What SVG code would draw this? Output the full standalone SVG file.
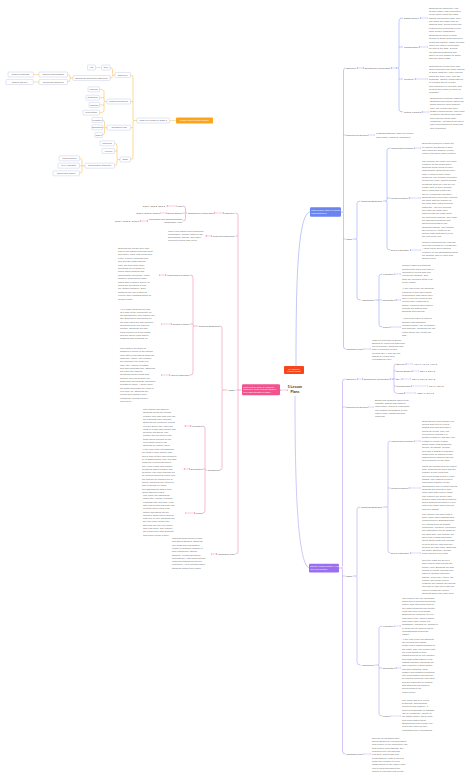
<svg xmlns="http://www.w3.org/2000/svg" width="474" height="780" viewBox="0 0 474 780">
<style>
text{font-family:"Liberation Sans",Arial,sans-serif}
.l{font-size:2.4px;fill:#555}
.le{font-size:2.4px;fill:#555;text-anchor:end}
.t{font-size:2.4px;fill:#6a6a6a}
.ob{font-size:2.1px;fill:#555;text-anchor:middle}
.box{fill:#fff;stroke:#aab6e2;stroke-width:0.35}
.cb{fill:none;stroke:#8092f2;stroke-width:0.5}
.cp{fill:none;stroke:#f0709e;stroke-width:0.5}
.cu{fill:none;stroke:#a88cf2;stroke-width:0.5}
.co{fill:none;stroke:#f6b43a;stroke-width:0.5}
.ab{fill:none;stroke:#8092f2;stroke-width:0.35;marker-start:url(#mb);marker-end:url(#mb)}
.ap{fill:none;stroke:#f0709e;stroke-width:0.35;marker-start:url(#mp);marker-end:url(#mp)}
.au{fill:none;stroke:#a88cf2;stroke-width:0.35;marker-start:url(#mu);marker-end:url(#mu)}
.ao{fill:none;stroke:#f6b43a;stroke-width:0.4}
.nt{fill:#fff;font-size:2.2px}
</style>
<defs>
<marker id="mb" viewBox="0 0 4 4" refX="2" refY="2" markerUnits="userSpaceOnUse" markerWidth="1.5" markerHeight="1.5" orient="auto-start-reverse"><path d="M0,0L4,2L0,4z" fill="#8092f2"/></marker>
<marker id="mp" viewBox="0 0 4 4" refX="2" refY="2" markerUnits="userSpaceOnUse" markerWidth="1.5" markerHeight="1.5" orient="auto-start-reverse"><path d="M0,0L4,2L0,4z" fill="#f0709e"/></marker>
<marker id="mu" viewBox="0 0 4 4" refX="2" refY="2" markerUnits="userSpaceOnUse" markerWidth="1.5" markerHeight="1.5" orient="auto-start-reverse"><path d="M0,0L4,2L0,4z" fill="#a88cf2"/></marker>
</defs>
<rect width="474" height="780" fill="#fff"/>

<g id="connectors">
<path class="cb" d="M296,366 C296,290 297,214 310,212"/>
<path class="cu" d="M295,396 C295,480 297,562 309,568"/>
<path class="ap" d="M280.5,390 H287.5"/>
<path class="cb" d="M345.5,68 Q343.5,68 343.5,70.5 V210.8 Q343.5,212 342.3,212 Q343.5,212 343.5,213.2 V346.5 Q343.5,349 345.5,349 M343.5,135 H345.5 M343.5,239 H345.5 M341,212 H342.3"/>
<path class="cb" d="M403,18 Q399,18 399,20.5 V66.8 Q399,68 397.8,68 Q399,68 399,69.2 V109.5 Q399,112 403,112 M399,47 H403 M399,79 H403"/>
<path class="cb" d="M360.5,201 Q357,201 357,203.5 V237.8 Q357,239 355.8,239 Q357,239 357,240.2 V297.5 Q357,300 360.5,300 M352.9,239 H355.8"/>
<path class="cb" d="M390.5,148 Q387,148 387,150.5 V199.8 Q387,201 385.8,201 Q387,201 387,202.2 V247.5 Q387,250 390.5,250 M387,198 H390.5 M383,201 H385.8"/>
<path class="cb" d="M382.5,274 Q379,274 379,276.5 V298.8 Q379,300 377.8,300 Q379,300 379,301.2 V324.5 Q379,327 382.5,327 M379,300 H382.5 M374.8,300 H377.8"/>
<path class="ab" d="M357.2,68 H363.8"/>
<path class="ab" d="M391,68 H397"/>
<path class="ab" d="M420,18 H427.3"/>
<path class="ab" d="M419,47 H427.3"/>
<path class="ab" d="M415,79 H427.3"/>
<path class="ab" d="M422,112 H428.3"/>
<path class="ab" d="M368.7,135 H374.3"/>
<path class="ab" d="M414.5,148 H420.3"/>
<path class="ab" d="M409,198 H420.3"/>
<path class="ab" d="M410.3,250 H420.3"/>
<path class="ab" d="M394.5,274 H400.3"/>
<path class="ab" d="M395.8,300 H400.3"/>
<path class="ab" d="M390.7,327 H400.3"/>
<path class="ab" d="M363.6,349 H370.3"/>
<path class="cu" d="M345.5,379 Q342.5,379 342.5,381.5 V566.8 Q342.5,568 341.3,568 Q342.5,568 342.5,569.2 V751.5 Q342.5,754 345.5,754 M342.5,407 H345.5 M342.5,576 H345.5 M339,568 H341.3"/>
<path class="cu" d="M396.5,364 Q394,364 394,366.5 V377.8 Q394,379 392.8,379 Q394,379 394,380.2 V390.5 Q394,393 396.5,393 M394,371 H396.5 M394,379 H396.5 M394,386 H396.5"/>
<path class="cu" d="M360.5,507 Q357,507 357,509.5 V574.8 Q357,576 355.8,576 Q357,576 357,577.2 V662.5 Q357,665 360.5,665 M352.9,576 H355.8"/>
<path class="cu" d="M390.5,441 Q388,441 388,443.5 V505.8 Q388,507 386.8,507 Q388,507 388,508.2 V550.5 Q388,553 390.5,553 M388,488 H390.5 M383,507 H386.8"/>
<path class="cu" d="M382.5,626 Q379,626 379,628.5 V663.8 Q379,665 377.8,665 Q379,665 379,666.2 V713.5 Q379,716 382.5,716 M379,668 H382.5 M374.8,665 H377.8"/>
<path class="au" d="M357,379 H363"/>
<path class="au" d="M390,379 H392.5"/>
<path class="au" d="M405.8,364 H412.3"/>
<path class="au" d="M412.5,371 H418.3"/>
<path class="au" d="M401.8,379 H410.3"/>
<path class="au" d="M411.4,386 H427.3"/>
<path class="au" d="M404.2,393 H415.3"/>
<path class="au" d="M368.7,407 H373.3"/>
<path class="au" d="M414.5,441 H420.3"/>
<path class="au" d="M409,488 H420.3"/>
<path class="au" d="M410.3,553 H420.3"/>
<path class="au" d="M394.5,626 H400.3"/>
<path class="au" d="M395.8,668 H400.3"/>
<path class="au" d="M390.7,716 H400.3"/>
<path class="au" d="M363.6,754 H370.3"/>
<path class="cp" d="M235.5,213 Q238,213 238,215.5 V388.8 Q238,390 239.2,390 Q238,390 238,391.2 V551.5 Q238,554 235.5,554 M238,236 H235.5 M238,390 H235.5 M242,390 H239.2"/>
<path class="cp" d="M183,206 Q185.5,206 185.5,208.5 V211.8 Q185.5,213 186.7,213 Q185.5,213 185.5,214.2 V218.5 Q185.5,221 183,221 M185.5,213 H183"/>
<path class="cp" d="M219.5,326 Q222,326 222,328.5 V388.8 Q222,390 223.2,390 Q222,390 222,391.2 V467.5 Q222,470 219.5,470 M223.2,390 H227.5"/>
<path class="cp" d="M190,275 Q193,275 193,277.5 V324.8 Q193,326 194.2,326 Q193,326 193,327.2 V372.5 Q193,375 190,375 M193,324 H190 M194.2,326 H197.8"/>
<path class="cp" d="M202.5,426 Q205,426 205,428.5 V468.8 Q205,470 206.2,470 Q205,470 205,471.2 V510.5 Q205,513 202.5,513 M205,469 H202.5"/>
<path class="ap" d="M223.7,213 H214.3"/>
<path class="ap" d="M176.4,206 H167"/>
<path class="ap" d="M166.5,213 H160.7"/>
<path class="ap" d="M147.7,221 H140"/>
<path class="ap" d="M211.8,236 H206"/>
<path class="ap" d="M166,275 H159.5"/>
<path class="ap" d="M171.6,324 H161.5"/>
<path class="ap" d="M170.2,375 H161.5"/>
<path class="ap" d="M191,426 H185"/>
<path class="ap" d="M189.7,469 H184"/>
<path class="ap" d="M194.8,513 H185.5"/>
<path class="ap" d="M216.9,554 H211.5"/>
<path class="ao" d="M176,120.5 H169.5"/>
<path class="co" d="M130.5,75 Q133,75 133,77.5 V119.3 Q133,120.5 134.2,120.5 Q133,120.5 133,121.7 V157 Q133,159.5 130.5,159.5 M133,101.5 H130.5 M133,127.7 H130.5 M134.2,120.5 H137"/>
<path class="co" d="M110,67.5 Q112.5,67.5 112.5,70 V73.8 Q112.5,75 113.7,75 Q112.5,75 112.5,76.2 Q112.5,78 110,78 M113.7,75 H115"/>
<path class="ao" d="M95.7,67.5 H101.5"/>
<path class="co" d="M67.5,74.5 Q70,74.5 70,77 Q70,78 71.2,78 Q70,78 70,79 Q70,82 67.5,82 M71.2,78 H73"/>
<path class="ao" d="M33.3,74.5 H39 M33.3,82 H39"/>
<path class="co" d="M99.5,89.3 Q104,89.3 104,91.8 V100.3 Q104,101.5 105.2,101.5 Q104,101.5 104,102.7 V110.2 Q104,112.7 99.5,112.7 M104,97.7 H99.5 M104,105 H99.5 M105.2,101.5 H107"/>
<path class="co" d="M102.5,120 Q104.5,120 104.5,122.5 V126.5 Q104.5,127.7 105.7,127.7 Q104.5,127.7 104.5,128.9 V132.5 Q104.5,135 102.5,135 M104.5,127.3 H102.5 M105.7,127.7 H107"/>
<path class="co" d="M114.5,143.3 Q117,143.3 117,145.8 V158.3 Q117,159.5 118.2,159.5 Q117,159.5 117,160.7 V163.2 Q117,165.7 114.5,165.7 M117,151 H114.5 M118.2,159.5 H120"/>
<path class="co" d="M79.5,158.3 Q82,158.3 82,160.8 V164.5 Q82,165.7 83.2,165.7 Q82,165.7 82,166.9 V170.8 Q82,173.3 79.5,173.3 M82,165.7 H79.5 M83.2,165.7 H85"/>
</g>

<g id="center"><text x="295" y="388.4" font-size="3.3" font-weight="bold" fill="#333" text-anchor="middle">5 Lesson</text><text x="295" y="392.6" font-size="3.3" font-weight="bold" fill="#333" text-anchor="middle">Plans</text></g>
<g id="tribe"><rect x="284" y="366" width="20" height="8" rx="1" fill="#f5461d"/><text class="nt" x="294" y="369.6" text-anchor="middle">My Children</text><text class="nt" x="294" y="372.4" text-anchor="middle">Lesson Plans</text></g>

<g id="pink-node"><rect x="242" y="384.3" width="38" height="11" rx="1.2" fill="#f2528e"/><text class="nt" x="243.3" y="387.6">Math Lesson Grade 3: Mapping</text><text class="nt" x="243.3" y="390.3">Strategies Grade 3 Social Studies</text><text class="nt" x="243.3" y="393">and Math Integrated Lesson</text></g>
<g id="p-objective"><text class="le" x="234.5" y="213.8">Objective</text></g>
<g id="p-blooms"><text class="le" x="213.5" y="213.8">Blooms/ICT Connection</text></g>
<g id="p-math"><text class="le" x="182.5" y="206.8">Math</text><text class="le" x="165" y="206.8">SP3.1, SP3.2, SP3.3</text></g>
<g id="p-ss"><text class="le" x="182.5" y="213.8">Social Studies</text><text class="le" x="159.5" y="213.8">DR3.1, DR3.2, DR3.3</text></g>
<g id="p-ict"><text class="le" x="182.5" y="220.2">Information and Communication</text><text class="le" x="182.5" y="223">Technology (ICT)</text><text class="le" x="138.5" y="221.8">CM3.1, CM3.2, CM3.3</text></g>
<g id="p-resources"><text class="le" x="234.5" y="236.8">Required Resources</text>
<text class="t" x="168" y="231.5"><tspan x="168">Map of the school and community,</tspan><tspan x="168" dy="3.3">compasses, Google Maps on the</tspan><tspan x="168" dy="3.3">Smartboard, tablets, grid paper,</tspan><tspan x="168" dy="3.3">coloured pencils and rulers.</tspan></text></g>
<g id="p-tasks"><text class="le" x="234.5" y="390.8">Tasks</text></g>
<g id="p-strategies"><text class="le" x="219.5" y="326.8">Teaching Strategies</text></g>
<g id="p-independent"><text class="le" x="189.5" y="275.8">Independent Practice</text>
<text class="t" x="118" y="248.5"><tspan x="118">Students will create their own</tspan><tspan x="118" dy="3.4">map of the school grounds using</tspan><tspan x="118" dy="3.4">grid paper. Their map must have</tspan><tspan x="118" dy="3.4">a title, legend, compass rose</tspan><tspan x="118" dy="3.4">and at least eight features.</tspan><tspan x="118" dy="3.4">They will then write three</tspan><tspan x="118" dy="3.4">directions for a partner to</tspan><tspan x="118" dy="3.4">follow using cardinal and</tspan><tspan x="118" dy="3.4">intermediate directions. When</tspan><tspan x="118" dy="3.4">finished, students will trade</tspan><tspan x="118" dy="3.4">maps with a partner and try to</tspan><tspan x="118" dy="3.4">follow the directions to find</tspan><tspan x="118" dy="3.4">the 'hidden treasure'. Early</tspan><tspan x="118" dy="3.4">finishers can use a tablet to</tspan><tspan x="118" dy="3.4">explore their neighbourhood on</tspan><tspan x="118" dy="3.4">Google Maps.</tspan></text></g>
<g id="p-guided"><text class="le" x="189.5" y="324.8">Guided Practice</text>
<text class="t" x="120" y="309.5"><tspan x="120">As a class, students will look</tspan><tspan x="120" dy="3.3">at a map of the community on</tspan><tspan x="120" dy="3.3">the Smartboard. The teacher will</tspan><tspan x="120" dy="3.3">ask students to find places on</tspan><tspan x="120" dy="3.3">the map using the grid and give</tspan><tspan x="120" dy="3.3">directions from one place to</tspan><tspan x="120" dy="3.3">another. Students will take</tspan><tspan x="120" dy="3.3">turns coming up to the board</tspan><tspan x="120" dy="3.3">and will check each other's</tspan><tspan x="120" dy="3.3">answers with a thumbs up.</tspan></text></g>
<g id="p-direct"><text class="le" x="189.5" y="375.8">Direct Instruction</text>
<text class="t" x="120" y="349"><tspan x="120">The teacher will begin by</tspan><tspan x="120" dy="3.3">showing a picture of the school</tspan><tspan x="120" dy="3.3">from above and asking students</tspan><tspan x="120" dy="3.3">what they notice. The teacher</tspan><tspan x="120" dy="3.3">will introduce the parts of a</tspan><tspan x="120" dy="3.3">map: title, legend, symbols,</tspan><tspan x="120" dy="3.3">grid and compass rose. Students</tspan><tspan x="120" dy="3.3">will learn the cardinal</tspan><tspan x="120" dy="3.3">directions using a song and</tspan><tspan x="120" dy="3.3">actions, then the teacher will</tspan><tspan x="120" dy="3.3">show how intermediate directions</tspan><tspan x="120" dy="3.3">fit between them. A short video</tspan><tspan x="120" dy="3.3">will show how maps are used in</tspan><tspan x="120" dy="3.3">everyday life. Students will</tspan><tspan x="120" dy="3.3">record new words in their</tspan><tspan x="120" dy="3.3">vocabulary journals before</tspan><tspan x="120" dy="3.3">moving on.</tspan></text></g>
<g id="p-assessment"><text class="le" x="219.5" y="470.8">Assessment</text></g>
<g id="p-formative"><text class="le" x="202.5" y="426.8">Formative</text>
<text class="t" x="143" y="410"><tspan x="143">The teacher will observe</tspan><tspan x="143" dy="3.3">students during the guided</tspan><tspan x="143" dy="3.3">practice and note who can use</tspan><tspan x="143" dy="3.3">the compass rose correctly.</tspan><tspan x="143" dy="3.3">Students will complete a quick</tspan><tspan x="143" dy="3.3">exit slip where they label the</tspan><tspan x="143" dy="3.3">parts of a map and answer two</tspan><tspan x="143" dy="3.3">direction questions. The</tspan><tspan x="143" dy="3.3">teacher will use this to plan</tspan><tspan x="143" dy="3.3">small group support for the</tspan><tspan x="143" dy="3.3">next lesson and to pair</tspan><tspan x="143" dy="3.3">students for partner work.</tspan></text></g>
<g id="p-summative"><text class="le" x="202.5" y="469.8">Summative</text>
<text class="t" x="142" y="450"><tspan x="142">At the end of the unit students</tspan><tspan x="142" dy="3.3">will hand in their school map</tspan><tspan x="142" dy="3.3">and a map of their own bedroom</tspan><tspan x="142" dy="3.3">or neighbourhood. They will also</tspan><tspan x="142" dy="3.3">complete a short test where</tspan><tspan x="142" dy="3.3">they read a map and answer</tspan><tspan x="142" dy="3.3">questions about location and</tspan><tspan x="142" dy="3.3">direction. The map projects will</tspan><tspan x="142" dy="3.3">be marked using the rubric and</tspan><tspan x="142" dy="3.3">the test will be marked out of</tspan><tspan x="142" dy="3.3">twenty. Students will reflect on</tspan><tspan x="142" dy="3.3">their learning in a short</tspan><tspan x="142" dy="3.3">self-assessment that is sent</tspan><tspan x="142" dy="3.3">home with their mark.</tspan></text></g>
<g id="p-rubric"><text class="le" x="202.5" y="513.8">Rubric</text>
<text class="t" x="143" y="496"><tspan x="143">The rubric will assess the</tspan><tspan x="143" dy="3.3">map's title, legend, symbols,</tspan><tspan x="143" dy="3.3">compass rose and grid. It will</tspan><tspan x="143" dy="3.3">also look at how accurate and</tspan><tspan x="143" dy="3.3">neat the map is and if the</tspan><tspan x="143" dy="3.3">written directions can be</tspan><tspan x="143" dy="3.3">followed. Each part is scored</tspan><tspan x="143" dy="3.3">from one to four. Students will</tspan><tspan x="143" dy="3.3">see the rubric before they</tspan><tspan x="143" dy="3.3">start and will use it to check</tspan><tspan x="143" dy="3.3">their own work. The teacher</tspan><tspan x="143" dy="3.3">will conference with students</tspan><tspan x="143" dy="3.3">who score below a three.</tspan></text></g>
<g id="p-integration"><text class="le" x="234.5" y="554.8">Integration Plan</text>
<text class="t" x="172" y="539"><tspan x="172">Mapping skills connect Math</tspan><tspan x="172" dy="3.3">and Social Studies. Students</tspan><tspan x="172" dy="3.3">use grids and coordinates</tspan><tspan x="172" dy="3.3">(Math) to describe location in</tspan><tspan x="172" dy="3.3">their community (Social</tspan><tspan x="172" dy="3.3">Studies). Writing directions</tspan><tspan x="172" dy="3.3">supports ELA and using Google</tspan><tspan x="172" dy="3.3">Maps and tablets meets ICT</tspan><tspan x="172" dy="3.3">outcomes. Art is included when</tspan><tspan x="172" dy="3.3">students design their maps.</tspan></text></g>

<g id="blue-node"><rect x="310" y="207.3" width="31" height="9.4" rx="1.2" fill="#6a84f0"/><text class="nt" x="311.3" y="211">Math Lesson Grade 5: Mental</text><text class="nt" x="311.3" y="213.8">Math Strategies</text></g>
<g id="b-objective"><text class="l" x="346" y="68.8">Objective</text></g>
<g id="b-blooms"><text class="l" x="365" y="68.8">Blooms/ICT Connection</text></g>
<g id="b-digital"><text class="l" x="404" y="18.8">Digital Citizen</text>
<text class="t" x="429" y="8.8"><tspan x="429">Students will show they can</tspan><tspan x="429" dy="3.3">behave safely and respectfully</tspan><tspan x="429" dy="3.3">online while using the class</tspan><tspan x="429" dy="3.3">tablets and shared apps. They</tspan><tspan x="429" dy="3.3">will follow the class rules for</tspan><tspan x="429" dy="3.3">sharing work, giving credit and</tspan><tspan x="429" dy="3.3">posting kind comments on the</tspan><tspan x="429" dy="3.3">work of their classmates.</tspan></text></g>
<g id="b-collab"><text class="l" x="404" y="47.8">Collaboration</text>
<text class="t" x="429" y="36"><tspan x="429">Students will work in small</tspan><tspan x="429" dy="3.3">groups to share ideas and solve</tspan><tspan x="429" dy="3.3">problems together. Each member</tspan><tspan x="429" dy="3.3">has a role and is responsible</tspan><tspan x="429" dy="3.3">for part of the task. Groups</tspan><tspan x="429" dy="3.3">will discuss strategies and</tspan><tspan x="429" dy="3.3">agree on one answer to share</tspan><tspan x="429" dy="3.3">with the whole class.</tspan></text></g>
<g id="b-creativity"><text class="l" x="404" y="79.8">Creativity</text>
<text class="t" x="429" y="66.8"><tspan x="429">Students will create their own</tspan><tspan x="429" dy="3.3">word problems and visual models</tspan><tspan x="429" dy="3.3">to show what they have learned</tspan><tspan x="429" dy="3.3">about the topic. They can use</tspan><tspan x="429" dy="3.3">drawings, photos, manipulatives</tspan><tspan x="429" dy="3.3">or a digital app to explain</tspan><tspan x="429" dy="3.3">their thinking in a new way and</tspan><tspan x="429" dy="3.3">present their work to peers for</tspan><tspan x="429" dy="3.3">feedback.</tspan></text></g>
<g id="b-critical"><text class="l" x="404" y="112.8">Critical Thinking</text>
<text class="t" x="430" y="98.8"><tspan x="430">Students will compare different</tspan><tspan x="430" dy="3.3">strategies and decide which one</tspan><tspan x="430" dy="3.3">works best for each problem.</tspan><tspan x="430" dy="3.3">They will explain why their</tspan><tspan x="430" dy="3.3">answer makes sense, find errors</tspan><tspan x="430" dy="3.3">in sample solutions and justify</tspan><tspan x="430" dy="3.3">their choices using math</tspan><tspan x="430" dy="3.3">vocabulary. Questions will move</tspan><tspan x="430" dy="3.3">from remembering to analyzing</tspan><tspan x="430" dy="3.3">and evaluating.</tspan></text></g>
<g id="b-resources"><text class="l" x="346" y="135.8">Required Resources</text>
<text class="t" x="376" y="134.2"><tspan x="376">iPads/Smartboard, base ten blocks,</tspan><tspan x="376" dy="3.3">chart paper, markers, worksheet</tspan></text></g>
<g id="b-tasks"><text class="l" x="346" y="239.8">Tasks</text></g>
<g id="b-strategies"><text class="l" x="361" y="201.8">Teaching Strategies</text></g>
<g id="b-independent"><text class="l" x="391" y="148.8">Independent Practice</text>
<text class="t" x="422" y="144.2"><tspan x="422">Students complete a short set</tspan><tspan x="422" dy="3.3">of practice questions on their</tspan><tspan x="422" dy="3.3">own using the strategy of their</tspan><tspan x="422" dy="3.3">choice and check with a partner.</tspan></text></g>
<g id="b-guided"><text class="l" x="391" y="198.8">Guided Practice</text>
<text class="t" x="422" y="161.5"><tspan x="422">The teacher will model one more</tspan><tspan x="422" dy="3.3">example on the board while</tspan><tspan x="422" dy="3.3">students follow along on their</tspan><tspan x="422" dy="3.3">whiteboards. Students will then</tspan><tspan x="422" dy="3.3">work in pairs to solve three</tspan><tspan x="422" dy="3.3">problems. The teacher circulates</tspan><tspan x="422" dy="3.3">around the room, asking guiding</tspan><tspan x="422" dy="3.3">questions such as 'How do you</tspan><tspan x="422" dy="3.3">know?' and 'Is there another</tspan><tspan x="422" dy="3.3">way?' Pairs who finish early</tspan><tspan x="422" dy="3.3">will try a challenge question.</tspan><tspan x="422" dy="3.3">Students who need more support</tspan><tspan x="422" dy="3.3">will work with the teacher at</tspan><tspan x="422" dy="3.3">the back table using concrete</tspan><tspan x="422" dy="3.3">materials. After ten minutes,</tspan><tspan x="422" dy="3.3">two pairs will share their</tspan><tspan x="422" dy="3.3">thinking with the class using</tspan><tspan x="422" dy="3.3">the document camera. The class</tspan><tspan x="422" dy="3.3">will discuss similarities and</tspan><tspan x="422" dy="3.3">differences between the</tspan><tspan x="422" dy="3.3">strategies shown. The teacher</tspan><tspan x="422" dy="3.3">will record key ideas on an</tspan><tspan x="422" dy="3.3">anchor chart that stays up for</tspan><tspan x="422" dy="3.3">the rest of the unit.</tspan></text></g>
<g id="b-direct"><text class="l" x="391" y="250.8">Direct Instruction</text>
<text class="t" x="422" y="242.6"><tspan x="422">Teacher introduces the learning</tspan><tspan x="422" dy="3.3">goal and reviews key vocabulary.</tspan><tspan x="422" dy="3.3">A short video and a worked</tspan><tspan x="422" dy="3.3">example on the Smartboard show</tspan><tspan x="422" dy="3.3">the strategy step by step with</tspan><tspan x="422" dy="3.3">student input.</tspan></text></g>
<g id="b-assessment"><text class="l" x="361" y="300.8">Assessment</text></g>
<g id="b-formative"><text class="l" x="383" y="274.8">Formative</text>
<text class="t" x="402" y="266.4"><tspan x="402">Teacher observes students</tspan><tspan x="402" dy="3.3">during group work and uses a</tspan><tspan x="402" dy="3.3">checklist to record who can</tspan><tspan x="402" dy="3.3">explain the strategy. Exit</tspan><tspan x="402" dy="3.3">slips are collected at the end</tspan><tspan x="402" dy="3.3">of the lesson.</tspan></text></g>
<g id="b-summative"><text class="l" x="383" y="300.8">Summative</text>
<text class="t" x="402" y="289.2"><tspan x="402">At the end of the unit students</tspan><tspan x="402" dy="3.3">complete a quiz and a short</tspan><tspan x="402" dy="3.3">performance task where they</tspan><tspan x="402" dy="3.3">solve a real-life problem and</tspan><tspan x="402" dy="3.3">explain their reasoning in</tspan><tspan x="402" dy="3.3">words, numbers and pictures.</tspan><tspan x="402" dy="3.3">Results are shared with</tspan><tspan x="402" dy="3.3">students and parents.</tspan></text></g>
<g id="b-rubric"><text class="l" x="383" y="327.8">Rubric</text>
<text class="t" x="402" y="319.4"><tspan x="402">A four-point rubric is used to</tspan><tspan x="402" dy="3.3">assess understanding,</tspan><tspan x="402" dy="3.3">communication, use of strategy</tspan><tspan x="402" dy="3.3">and accuracy. Students see the</tspan><tspan x="402" dy="3.3">rubric before they begin the</tspan><tspan x="402" dy="3.3">task.</tspan></text></g>
<g id="b-integration"><text class="l" x="346" y="349.8">Integration Plan</text>
<text class="t" x="372" y="340.5"><tspan x="372">Math is connected to Social</tspan><tspan x="372" dy="3.3">Studies by using real data from</tspan><tspan x="372" dy="3.3">our community. Students also</tspan><tspan x="372" dy="3.3">write a reflection in their</tspan><tspan x="372" dy="3.3">journals (ELA) and use the</tspan><tspan x="372" dy="3.3">tablets to record their</tspan><tspan x="372" dy="3.3">explanations (ICT).</tspan></text></g>

<g id="purple-node"><rect x="309" y="563.8" width="30" height="8.6" rx="1.2" fill="#9b6ff0"/><text class="nt" x="310.3" y="567.4">Science Lesson Grade 4: Habitats</text><text class="nt" x="310.3" y="570.2">and Communities</text></g>
<g id="u-objective"><text class="l" x="346" y="379.8">Objective</text></g>
<g id="u-blooms"><text class="l" x="364" y="379.8">Blooms/ICT Connection</text></g>
<g id="u-science"><text class="l" x="396.5" y="364.8">Science</text><text class="l" x="414" y="364.8">HC4.1, HC4.2, HC4.3</text></g>
<g id="u-ss"><text class="l" x="396.5" y="371.8">Social Studies</text><text class="l" x="420" y="371.8">DR4.1, DR4.2</text></g>
<g id="u-ela"><text class="l" x="396.5" y="379.8">ELA</text><text class="l" x="412" y="379.8">CR4.1, CC4.2, CC4.3</text></g>
<g id="u-collab"><text class="l" x="396.5" y="386.8">Collaboration</text><text class="l" x="429" y="386.8">CP4.1, CP4.2</text></g>
<g id="u-health"><text class="l" x="396.5" y="393.8">Health</text><text class="l" x="417" y="393.8">USC4.1, DM4.2</text></g>
<g id="u-resources"><text class="l" x="346" y="407.8">Required Resources</text>
<text class="t" x="375" y="400.8"><tspan x="375">Books and websites about local</tspan><tspan x="375" dy="3.3">habitats, tablets with camera,</tspan><tspan x="375" dy="3.3">chart paper, markers, clipboards</tspan><tspan x="375" dy="3.3">and magnifying glasses for the</tspan><tspan x="375" dy="3.3">nature walk, habitat diorama</tspan><tspan x="375" dy="3.3">materials.</tspan></text></g>
<g id="u-tasks"><text class="l" x="346" y="576.8">Tasks</text></g>
<g id="u-strategies"><text class="l" x="361" y="507.8">Teaching Strategies</text></g>
<g id="u-independent"><text class="l" x="391" y="441.8">Independent Practice</text>
<text class="t" x="422" y="421.8"><tspan x="422">Students will each choose one</tspan><tspan x="422" dy="3.3">animal that lives in a local</tspan><tspan x="422" dy="3.3">habitat and research how it</tspan><tspan x="422" dy="3.3">meets its needs. They will</tspan><tspan x="422" dy="3.3">record their findings in a</tspan><tspan x="422" dy="3.3">graphic organizer and then use</tspan><tspan x="422" dy="3.3">a tablet to create a short</tspan><tspan x="422" dy="3.3">digital poster that shows the</tspan><tspan x="422" dy="3.3">animal, its habitat, its food</tspan><tspan x="422" dy="3.3">and how it adapts to changes.</tspan><tspan x="422" dy="3.3">Posters will be shared on the</tspan><tspan x="422" dy="3.3">class blog so families can see</tspan><tspan x="422" dy="3.3">and comment on the work.</tspan></text></g>
<g id="u-guided"><text class="l" x="391" y="488.8">Guided Practice</text>
<text class="t" x="422" y="466.8"><tspan x="422">Using the photos from the nature</tspan><tspan x="422" dy="3.3">walk, students will work with the</tspan><tspan x="422" dy="3.3">teacher to sort living and</tspan><tspan x="422" dy="3.3">non-living things found in each</tspan><tspan x="422" dy="3.3">habitat. The class will build a</tspan><tspan x="422" dy="3.3">food chain together on the</tspan><tspan x="422" dy="3.3">Smartboard, then in small groups</tspan><tspan x="422" dy="3.3">students will build their own</tspan><tspan x="422" dy="3.3">food chain with picture cards.</tspan><tspan x="422" dy="3.3">The teacher will check each</tspan><tspan x="422" dy="3.3">group's chain and ask questions</tspan><tspan x="422" dy="3.3">about what would happen if one</tspan><tspan x="422" dy="3.3">part of the chain was removed</tspan><tspan x="422" dy="3.3">from the habitat.</tspan></text></g>
<g id="u-direct"><text class="l" x="391" y="553.8">Direct Instruction</text>
<text class="t" x="422" y="514.8"><tspan x="422">The teacher will begin with a</tspan><tspan x="422" dy="3.3">short video about habitats and</tspan><tspan x="422" dy="3.3">communities in Saskatchewan.</tspan><tspan x="422" dy="3.3">Key words such as habitat,</tspan><tspan x="422" dy="3.3">community, producer, consumer</tspan><tspan x="422" dy="3.3">and adaptation will be added to</tspan><tspan x="422" dy="3.3">the word wall. The teacher will</tspan><tspan x="422" dy="3.3">then lead a class discussion</tspan><tspan x="422" dy="3.3">about what plants and animals</tspan><tspan x="422" dy="3.3">need to survive and how they</tspan><tspan x="422" dy="3.3">depend on each other. Students</tspan><tspan x="422" dy="3.3">will share what they already</tspan><tspan x="422" dy="3.3">know using a KWL chart.</tspan><tspan x="422" dy="6.6">Next the class will go on a</tspan><tspan x="422" dy="3.3">short nature walk around the</tspan><tspan x="422" dy="3.3">school yard. Students will take</tspan><tspan x="422" dy="3.3">photos of plants, animals and</tspan><tspan x="422" dy="3.3">signs of animals using the</tspan><tspan x="422" dy="3.3">tablets. When they return, the</tspan><tspan x="422" dy="3.3">teacher will model how to</tspan><tspan x="422" dy="3.3">organize the photos into groups</tspan><tspan x="422" dy="3.3">and how to label them with the</tspan><tspan x="422" dy="3.3">correct vocabulary before</tspan><tspan x="422" dy="3.3">students begin their own work.</tspan></text></g>
<g id="u-assessment"><text class="l" x="361" y="665.8">Assessment</text></g>
<g id="u-formative"><text class="l" x="383" y="626.8">Formative</text>
<text class="t" x="402" y="598.8"><tspan x="402">The teacher will use anecdotal</tspan><tspan x="402" dy="3.3">notes and a checklist during the</tspan><tspan x="402" dy="3.3">nature walk and group work to</tspan><tspan x="402" dy="3.3">see which students can identify</tspan><tspan x="402" dy="3.3">living and non-living things.</tspan><tspan x="402" dy="3.3">Students will complete an exit</tspan><tspan x="402" dy="3.3">card where they draw a simple</tspan><tspan x="402" dy="3.3">food chain and explain one</tspan><tspan x="402" dy="3.3">adaptation. Thumbs up, sideways</tspan><tspan x="402" dy="3.3">or down will be used to check</tspan><tspan x="402" dy="3.3">understanding during the</tspan><tspan x="402" dy="3.3">lesson.</tspan></text></g>
<g id="u-summative"><text class="l" x="383" y="668.8">Summative</text>
<text class="t" x="402" y="639.8"><tspan x="402">At the end of the unit students</tspan><tspan x="402" dy="3.3">will present their digital</tspan><tspan x="402" dy="3.3">poster and a habitat diorama to</tspan><tspan x="402" dy="3.3">the class. They will explain how</tspan><tspan x="402" dy="3.3">the living things in their</tspan><tspan x="402" dy="3.3">habitat depend on one another</tspan><tspan x="402" dy="3.3">and what might happen if the</tspan><tspan x="402" dy="3.3">habitat changed. Students will</tspan><tspan x="402" dy="3.3">also complete a short written</tspan><tspan x="402" dy="3.3">test with matching, short</tspan><tspan x="402" dy="3.3">answer and diagram questions.</tspan><tspan x="402" dy="3.3">The presentation and test will</tspan><tspan x="402" dy="3.3">be marked using the unit rubric</tspan><tspan x="402" dy="3.3">and the marks will be shared</tspan><tspan x="402" dy="3.3">with students and families</tspan><tspan x="402" dy="3.3">during student-led</tspan><tspan x="402" dy="3.3">conferences.</tspan></text></g>
<g id="u-rubric"><text class="l" x="383" y="716.8">Rubric</text>
<text class="t" x="402" y="700.8"><tspan x="402">The rubric has four levels:</tspan><tspan x="402" dy="3.3">beginning, approaching,</tspan><tspan x="402" dy="3.3">proficient and mastery. It</tspan><tspan x="402" dy="3.3">looks at knowledge of habitats,</tspan><tspan x="402" dy="3.3">use of vocabulary, quality of</tspan><tspan x="402" dy="3.3">the digital poster, group work</tspan><tspan x="402" dy="3.3">and presentation skills.</tspan><tspan x="402" dy="3.3">Students will help create one</tspan><tspan x="402" dy="3.3">row of the rubric so they</tspan><tspan x="402" dy="3.3">understand the expectations.</tspan></text></g>
<g id="u-integration"><text class="l" x="346" y="754.8">Integration Plan</text>
<text class="t" x="372" y="738.8"><tspan x="372">Science is integrated with</tspan><tspan x="372" dy="3.3">Social Studies by learning about</tspan><tspan x="372" dy="3.3">how people in our community use</tspan><tspan x="372" dy="3.3">and protect local habitats. ELA</tspan><tspan x="372" dy="3.3">outcomes are met through</tspan><tspan x="372" dy="3.3">research, writing and oral</tspan><tspan x="372" dy="3.3">presentations. Math is used to</tspan><tspan x="372" dy="3.3">graph the number of living</tspan><tspan x="372" dy="3.3">things found on the nature walk.</tspan><tspan x="372" dy="3.3">ICT is used throughout the</tspan><tspan x="372" dy="3.3">lesson to research and create.</tspan></text></g>

<g id="orange-node"><rect x="176" y="117.4" width="37" height="6.2" rx="1" fill="#fba51d"/><text class="nt" x="194.5" y="121.3" text-anchor="middle">Lesson Plan Template Outline</text></g>
<g id="o-plans"><rect class="box" x="137" y="118" width="32.5" height="5" rx="0.8"/><text class="ob" x="153.2" y="121.2">Plans for a Lesson in Grade 3</text></g>
<g id="o-objective"><rect class="box" x="115" y="72.5" width="15.5" height="5" rx="0.8"/><text class="ob" x="122.7" y="75.7">Objectives</text></g>
<g id="o-goal"><rect class="box" x="101.5" y="65" width="8.5" height="5" rx="0.8"/><text class="ob" x="105.7" y="68.2">Goal</text></g>
<g id="o-ict"><rect class="box" x="87.5" y="65" width="8" height="5" rx="0.8"/><text class="ob" x="91.5" y="68.2">ICT</text></g>
<g id="o-blooms"><rect class="box" x="73" y="75.5" width="37" height="5" rx="0.8"/><text class="ob" x="91.5" y="78.7">Blooms/ICT Connection Objectives</text></g>
<g id="o-content"><rect class="box" x="39" y="72" width="28.5" height="5" rx="0.8"/><text class="ob" x="53.2" y="75.2">Content Understanding</text></g>
<g id="o-knowledge"><rect class="box" x="8" y="72" width="25.3" height="5" rx="0.8"/><text class="ob" x="20.6" y="75.2">Student Knowledge</text></g>
<g id="o-instr"><rect class="box" x="39" y="79.5" width="28.5" height="5" rx="0.8"/><text class="ob" x="53.2" y="82.7">Instructional Strategies</text></g>
<g id="o-skill"><rect class="box" x="6" y="79.5" width="27.3" height="5" rx="0.8"/><text class="ob" x="19.6" y="82.7">Student Skill Set</text></g>
<g id="o-resources"><rect class="box" x="107" y="99" width="23.5" height="5" rx="0.8"/><text class="ob" x="118.7" y="102.2">Required Resources</text></g>
<g id="o-materials"><rect class="box" x="88" y="86.8" width="11.5" height="5" rx="0.8"/><text class="ob" x="93.7" y="90">Materials</text></g>
<g id="o-technology"><rect class="box" x="86" y="95.2" width="13.5" height="5" rx="0.8"/><text class="ob" x="92.7" y="98.4">Technology</text></g>
<g id="o-supports"><rect class="box" x="89" y="102.5" width="10.5" height="5" rx="0.8"/><text class="ob" x="94.2" y="105.7">Supports</text></g>
<g id="o-presentation"><rect class="box" x="83" y="110.2" width="16.5" height="5" rx="0.8"/><text class="ob" x="91.2" y="113.4">Presentation</text></g>
<g id="o-assessment"><rect class="box" x="107" y="125.2" width="23.5" height="5" rx="0.8"/><text class="ob" x="118.7" y="128.4">Assessment Plan</text></g>
<g id="o-formative"><rect class="box" x="92" y="117.5" width="10.5" height="5" rx="0.8"/><text class="ob" x="97.2" y="120.7">Formative</text></g>
<g id="o-summative"><rect class="box" x="92" y="124.8" width="10.5" height="5" rx="0.8"/><text class="ob" x="97.2" y="128">Summative</text></g>
<g id="o-rubric"><rect class="box" x="95" y="132.5" width="7.5" height="5" rx="0.8"/><text class="ob" x="98.7" y="135.7">Rubric</text></g>
<g id="o-tasks"><rect class="box" x="120" y="157" width="10.5" height="5" rx="0.8"/><text class="ob" x="125.2" y="160.2">Tasks</text></g>
<g id="o-instruction"><rect class="box" x="100" y="140.8" width="14.5" height="5" rx="0.8"/><text class="ob" x="107.2" y="144">Instruction</text></g>
<g id="o-activities"><rect class="box" x="102" y="148.5" width="12.5" height="5" rx="0.8"/><text class="ob" x="108.2" y="151.7">Activities</text></g>
<g id="o-diff"><rect class="box" x="85" y="163.2" width="29.5" height="5" rx="0.8"/><text class="ob" x="99.7" y="166.4">Differentiation Strategies</text></g>
<g id="o-d1"><rect class="box" x="59" y="155.8" width="20.5" height="5" rx="0.8"/><text class="ob" x="69.2" y="159">Visual Supports</text></g>
<g id="o-d2"><rect class="box" x="58" y="163.2" width="21.5" height="5" rx="0.8"/><text class="ob" x="68.7" y="166.4">Peer Assistance</text></g>
<g id="o-d3"><rect class="box" x="53" y="170.8" width="26.5" height="5" rx="0.8"/><text class="ob" x="66.2" y="174">Independent Choice</text></g>
</svg>
